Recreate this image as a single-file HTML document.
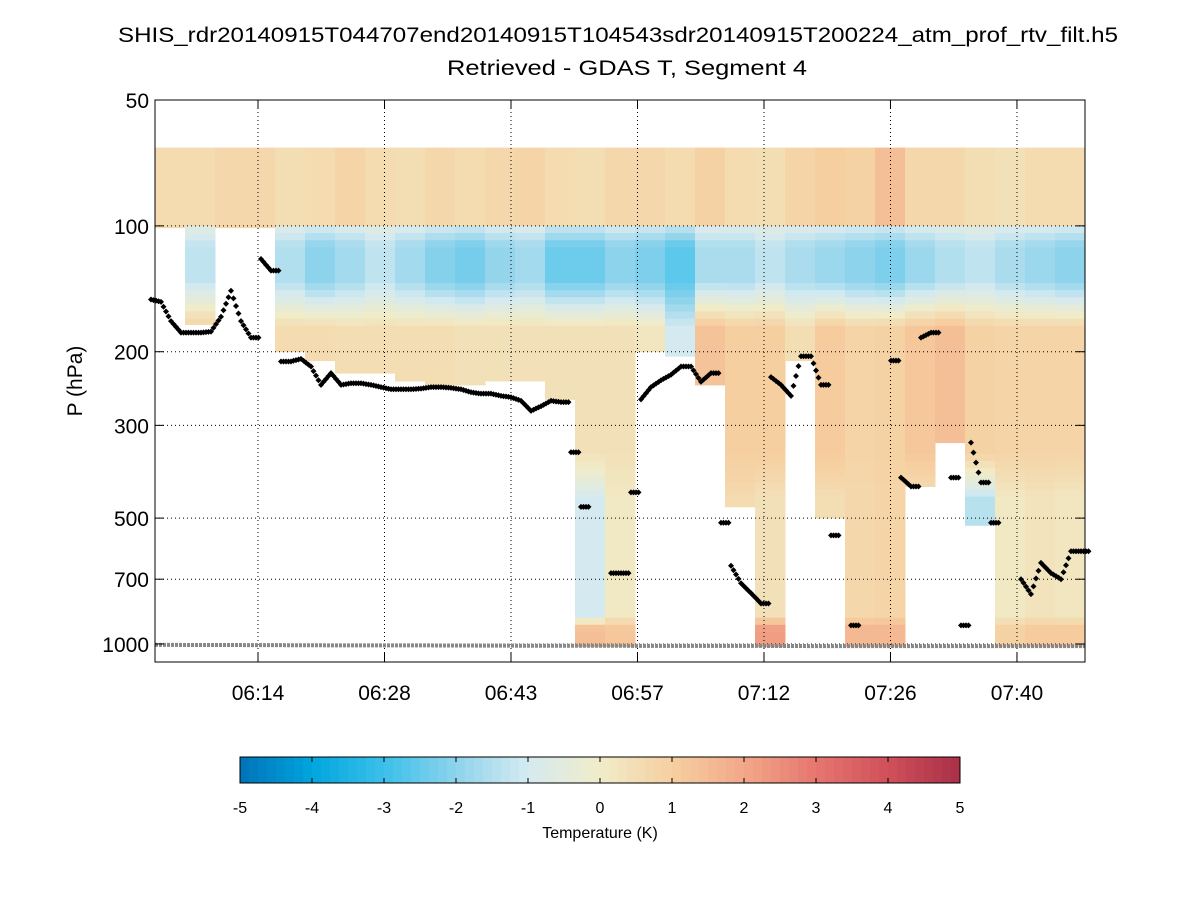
<!DOCTYPE html>
<html><head><meta charset="utf-8"><title>SHIS Retrieved - GDAS T</title>
<style>html,body{margin:0;padding:0;background:#fff;}svg{display:block;font-family:"Liberation Sans",sans-serif;}</style>
</head><body>
<svg id="chart" width="1200" height="900" viewBox="0 0 1200 900">
<rect width="1200" height="900" fill="#fff"/>
<text x="618" y="42" font-size="21" text-anchor="middle" textLength="1000" lengthAdjust="spacingAndGlyphs">SHIS_rdr20140915T044707end20140915T104543sdr20140915T200224_atm_prof_rtv_filt.h5</text>
<text x="627" y="75" font-size="21" text-anchor="middle" textLength="360" lengthAdjust="spacingAndGlyphs">Retrieved - GDAS T, Segment 4</text>
<g id="heat"></g>
<g id="grid"></g>
<g id="surf"></g>
<g id="cloud"></g>
<g id="axes"></g>
<text transform="translate(82,381) rotate(-90)" font-size="21" text-anchor="middle">P (hPa)</text>
<g id="cbar"></g>
<text x="600" y="838" font-size="16" text-anchor="middle">Temperature (K)</text>
</svg>
<script>
// ---- data ----
var yTickValues = [50, 100, 200, 300, 500, 700, 1000];
var xTickMinutes = [374.0, 388.35, 402.7, 417.05, 431.4, 445.75, 460.1];
var xTickLabels = ["06:14", "06:28", "06:43", "06:57", "07:12", "07:26", "07:40"];
var cbTickValues = [-5, -4, -3, -2, -1, 0, 1, 2, 3, 4, 5];
// heatmap columns (30px-wide time bins)
var colBottomP = [100,172,100,100,200,210,225,225,235,240,240,235,235,260,1000,1000,200,205,240,470,1000,210,500,1000,1000,420,330,520,1000,1000,1000];
var colTopV   = [0.6,0.6,0.7,0.7,0.5,0.6,0.8,0.6,0.5,0.7,0.6,0.7,0.8,0.6,0.5,0.7,0.7,0.6,0.9,0.6,0.5,0.8,1.0,0.9,1.4,0.7,0.7,0.5,0.4,0.6,0.6];
var colColdV  = [-1.3,-1.3,-1.3,-1.3,-1.5,-2.0,-1.7,-1.3,-1.7,-2.1,-2.3,-1.9,-1.7,-2.4,-2.4,-2.0,-2.2,-2.6,-1.6,-1.6,-1.3,-1.6,-1.8,-2.0,-2.2,-1.8,-1.5,-1.3,-1.6,-1.8,-2.0];
var colMidV   = [0.8,1.0,0.8,0.8,0.6,0.6,0.5,0.5,0.5,0.5,0.4,0.4,0.4,0.4,0.4,0.4,0.2,-1.0,1.3,1.0,1.0,0.5,1.1,0.8,0.9,1.2,1.4,0.9,0.8,0.8,0.8];
var colLowV   = [0,0,0,0,0,0,0,0,0,0,0,0,0,0,-1.0,0.1,0,0,0,0.6,0.4,0,0.5,0.7,0.8,0.4,0.2,-1.4,0.1,0.3,0.2];
var colSfcV   = [0,0,0,0,0,0,0,0,0,0,0,0,0,0,1.4,1.2,0,0,0,0,2.2,0,0,1.6,1.6,0,0,0,0.9,1.1,1.1];
// cloud-top pressure samples (every 10 px of time axis, null = none)
var cloudTopP = [150,152,169,180,180,180,179,165,143,169,185,120,128,211,211,208,217,240,225,240,238,238,240,243,246,246,246,245,243,243,244,246,250,252,252,255,257,262,277,270,262,264,348,470,null,null,677,677,434,260,243,234,227,217,217,236,225,513,650,716,756,800,230,240,255,205,205,240,550,null,903,null,null,null,210,400,420,185,180,null,400,903,330,411,513,null,null,700,760,640,677,700,600,600];
var surfaceP = [1005,1006,1007,1008,1008,1009,1010,1010,1011,1011,1012,1012,1012,1012,1012];
// ---- scales ----
var X0=155, X1=1085, Y0=100, Y1=662;
function yScale(p){ return Y0 + Math.log10(p/50)*418.1; }
function xScale(min){ return 258 + (min-374)*8.815; }
var NS="http://www.w3.org/2000/svg";
function mk(tag, attrs, parent){ var e=document.createElementNS(NS,tag); for(var k in attrs) e.setAttribute(k, attrs[k]); parent.appendChild(e); return e; }
var stops=[[-5,[0,114,184]],[-4,[0,165,221]],[-3,[60,192,234]],[-2,[141,211,236]],[-1,[213,234,240]],[0,[240,236,200]],[1,[246,207,160]],[2,[242,168,136]],[3,[230,118,111]],[4,[208,80,90]],[5,[168,48,72]]];
function color(v){ v=Math.max(-5,Math.min(5,v)); for(var i=0;i<stops.length-1;i++){ if(v<=stops[i+1][0]){ var t=(v-stops[i][0]); var a=stops[i][1], b=stops[i+1][1]; return "rgb("+Math.round(a[0]+(b[0]-a[0])*t)+","+Math.round(a[1]+(b[1]-a[1])*t)+","+Math.round(a[2]+(b[2]-a[2])*t)+")"; } } return "rgb(168,48,72)"; }
function lerp(a,b,t){ return a+(b-a)*Math.max(0,Math.min(1,t)); }
function profile(c,p){
  if(p<101) return colTopV[c];
  if(p<112) return lerp(colColdV[c]*0.5, colColdV[c], (p-101)/11);
  if(p<135) return colColdV[c];
  if(p<175) return lerp(colColdV[c], colMidV[c], (p-135)/40);
  if(p<350) return colMidV[c];
  if(p<450) return lerp(colMidV[c], colLowV[c], (p-350)/100);
  if(p<850) return colLowV[c];
  if(p<920) return lerp(colLowV[c], colSfcV[c], (p-850)/70);
  return colSfcV[c];
}
// heatmap
var heat=document.getElementById('heat');
var colW=(X1-X0)/colBottomP.length;
var levels=[65]; while(levels[levels.length-1]<1015){ levels.push(levels[levels.length-1]*1.04); }
for(var c=0;c<colBottomP.length;c++){
  for(var i=0;i<levels.length-1;i++){
    var pa=levels[i], pb=Math.min(levels[i+1],1015);
    var bottom=colBottomP[c]; if(bottom<=101) bottom=101; if(bottom>=1000) bottom=1015;
    if(pa>=bottom) break;
    if(pb>bottom) pb=bottom;
    var r=mk('rect',{x:(X0+c*colW).toFixed(1), y:yScale(pa).toFixed(1), width:(colW+0.5).toFixed(1), height:(yScale(pb)-yScale(pa)+0.5).toFixed(1), fill:color(profile(c,Math.sqrt(pa*pb)))},heat);
    
    
  }
}
// grid
var grid=document.getElementById('grid');
yTickValues.forEach(function(p){ if(p===50) return; var l=mk('line',{x1:X0,x2:X1,y1:yScale(p),y2:yScale(p),stroke:'#000','stroke-width':1,'stroke-dasharray':'1,3'},grid);
  
   });
xTickMinutes.forEach(function(m){ var l=mk('line',{x1:xScale(m),x2:xScale(m),y1:Y0,y2:Y1,stroke:'#000','stroke-width':1,'stroke-dasharray':'1,3'},grid);
  
   });
// surface line
var surf=document.getElementById('surf');
var sp=surfaceP.map(function(p,i){ return (X0+i*(X1-X0)/(surfaceP.length-1)).toFixed(1)+','+yScale(p).toFixed(1); }).join(' ');
var sl=mk('polyline',{points:sp,fill:'none',stroke:'#888','stroke-width':4,'stroke-dasharray':'3,1'},surf);


// cloud top diamonds
var cloud=document.getElementById('cloud');
for(var k=0;k<cloudTopP.length;k++){
  var p=cloudTopP[k]; if(p===null) continue;
  var cx=X0+k*10, cy=yScale(p);
  var nxt=(k+1<cloudTopP.length && cloudTopP[k+1]!==null)?yScale(cloudTopP[k+1]):cy;
  [-4,-1.5,1,3.5].forEach(function(dx,j){
    var yy=cy+(nxt-cy)*(j/4)*(Math.abs(nxt-cy)<40?1:0);
    var d=mk('path',{d:'M'+(cx+dx)+' '+(yy-3)+' l3 3 l-3 3 l-3 -3 z',fill:'#000'},cloud);
    
    
  });
}
// axes
var axes=document.getElementById('axes');
var box=mk('rect',{x:X0,y:Y0,width:X1-X0,height:Y1-Y0,fill:'none',stroke:'#000','stroke-width':1},axes);


yTickValues.forEach(function(p){ var y=yScale(p);
  mk('line',{x1:X0,x2:X0+9,y1:y,y2:y,stroke:'#000'},axes); mk('line',{x1:X1,x2:X1-9,y1:y,y2:y,stroke:'#000'},axes);
  var t=mk('text',{x:X0-6,y:y+8,'font-size':21,'text-anchor':'end'},axes); t.textContent=p;
  
   });
xTickMinutes.forEach(function(m,i){ var x=xScale(m);
  mk('line',{x1:x,x2:x,y1:Y1,y2:Y1-9,stroke:'#000'},axes); mk('line',{x1:x,x2:x,y1:Y0,y2:Y0+9,stroke:'#000'},axes);
  var t=mk('text',{x:x,y:700,'font-size':21,'text-anchor':'middle'},axes); t.textContent=xTickLabels[i];
  
   });
// colorbar
var cb=document.getElementById('cbar');
var CX0=240, CX1=960, CY0=757, CY1=783, N=80;
for(var s=0;s<N;s++){ var v=-5+(s+0.5)*10/N;
  var r=mk('rect',{x:(CX0+s*(CX1-CX0)/N).toFixed(2),y:CY0,width:((CX1-CX0)/N+0.4).toFixed(2),height:CY1-CY0,fill:color(v)},cb);
  
   }
mk('rect',{x:CX0,y:CY0,width:CX1-CX0,height:CY1-CY0,fill:'none',stroke:'#000','stroke-width':1},cb);
cbTickValues.forEach(function(v){ var x=CX0+(v+5)/10*(CX1-CX0);
  mk('line',{x1:x,x2:x,y1:CY0,y2:CY0+5,stroke:'#000'},cb); mk('line',{x1:x,x2:x,y1:CY1,y2:CY1-5,stroke:'#000'},cb);
  var t=mk('text',{x:x,y:813,'font-size':16,'text-anchor':'middle'},cb); t.textContent=v;
  
   });
</script>
</body></html>
